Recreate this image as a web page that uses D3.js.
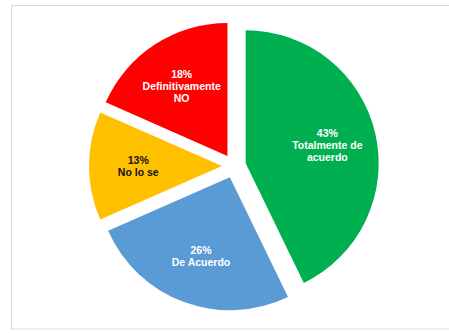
<!DOCTYPE html>
<html>
<head>
<meta charset="utf-8">
<script src="https://cdn.jsdelivr.net/npm/d3@7"></script>
<style>
    body { margin: 0; background: #fff; }
    svg { display: block; }
    text { font-family: "Liberation Sans", Arial, sans-serif; font-weight: bold; }
</style>
</head>
<body>
<div id="chart"></div>
<script>
// Data (slice sizes estimated from the angles, labels rounded)
const categories = ["Totalmente de acuerdo", "De Acuerdo", "No lo se", "Definitivamente NO"];
const values = [42.8, 25.6, 13.2, 18.4];
const labelNames = [["Totalmente de", "acuerdo"], ["De Acuerdo"], ["No lo se"], ["Definitivamente", "NO"]];
const colors = ["#00B050", "#5B9BD5", "#FFC000", "#FF0000"];
const textColors = ["#fff", "#fff", "#111", "#fff"];

let width = 449, height = 333;

let svg = d3.select("#chart").append("svg")
    .attr("width", width)
    .attr("height", height);

// chart frame
svg.append("rect")
    .attr("x", 11.5)
    .attr("y", 5.5)
    .attr("width", 445)
    .attr("height", 323.5)
    .attr("fill", "none")
    .attr("stroke", "#d9d9d9");

let cx = 234, cy = 166, radius = 133, explode = 12;

let pie = d3.pie().sort(null).value(d => d);
let arcs = pie(values);

let arc = d3.arc().innerRadius(0).outerRadius(radius);
let labelArc = d3.arc().innerRadius(radius * 0.63).outerRadius(radius * 0.63);

let g = svg.append("g")
    .attr("transform", "translate(" + cx + "," + cy + ")");

// pull every slice out along its bisector
function shift(d) {
    let a = (d.startAngle + d.endAngle) / 2;
    return [Math.sin(a) * explode, -Math.cos(a) * explode];
}

let slices = g.selectAll(".slice")
    .data(arcs)
    .enter().append("g")
    .attr("class", "slice")
    .attr("transform", d => "translate(" + shift(d) + ")");

slices.append("path")
    .attr("d", arc)
    .attr("fill", (d, i) => colors[i]);

slices.each(function(d, i) {
    let c = labelArc.centroid(d);
    let lines = [Math.round(d.value) + "%"].concat(labelNames[i]);
    let lh = 12;
    let t = d3.select(this).append("text")
        .attr("text-anchor", "middle")
        .attr("fill", textColors[i])
        .style("font-size", "10.5px");
    lines.forEach(function(line, j) {
        t.append("tspan")
            .attr("x", c[0])
            .attr("y", c[1] + (j - (lines.length - 1) / 2) * lh + 4)
            .text(line);
    });
});
</script>
</body>
</html>
